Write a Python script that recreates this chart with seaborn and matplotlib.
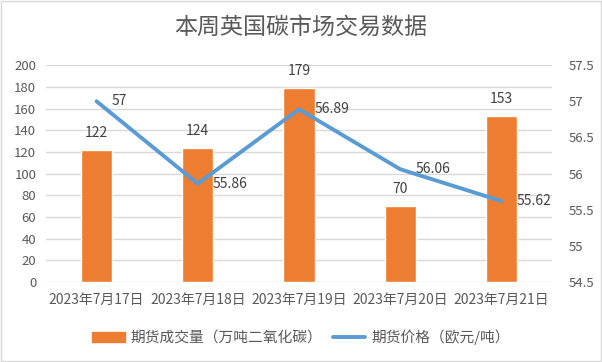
import matplotlib
matplotlib.use('Agg')
import matplotlib.pyplot as plt
import seaborn as sns
import pandas as pd
from matplotlib.patches import Rectangle
from matplotlib.lines import Line2D

dates = ['2023年7月17日', '2023年7月18日', '2023年7月19日', '2023年7月20日', '2023年7月21日']
volume = [122, 124, 179, 70, 153]
price = [57, 55.86, 56.89, 56.06, 55.62]
price_labels = ['57', '55.86', '56.89', '56.06', '55.62']

bar_name = '期货成交量（万吨二氧化碳）'
line_name = '期货价格（欧元/吨）'
title = '本周英国碳市场交易数据'

sns.set_theme(style='white')
plt.rcParams['font.family'] = ['Noto Sans CJK SC', 'DejaVu Sans']

orange = '#ED7D31'
blue = '#5B9BD5'
grey = '#595959'

df = pd.DataFrame({'date': dates, 'volume': volume, 'price': price})

fig = plt.figure(figsize=(6.02, 3.62), dpi=100)
ax = fig.add_axes([0.0764, 0.221, 0.8406, 0.599])
ax2 = ax.twinx()

sns.barplot(data=df, x='date', y='volume', color=orange, width=0.31,
            saturation=1, ax=ax, zorder=2)
ax.set_ylim(0, 200)
ax.set_yticks(range(0, 201, 20))
ax.yaxis.grid(True, color='#D9D9D9', linewidth=1, zorder=0)
ax.set_axisbelow(True)
ax.set_xlim(-0.5, 4.5)
ax.set_xlabel('')
ax.set_ylabel('')
for s in ax.spines.values():
    s.set_visible(False)
ax.tick_params(axis='y', length=0, labelsize=9.5, colors=grey, pad=7)
ax.tick_params(axis='x', length=0, labelsize=10, colors=grey, pad=8)

for i, v in enumerate(volume):
    ax.annotate(str(v), (i, v), xytext=(0, 7), textcoords='offset points',
                ha='center', va='bottom', fontsize=10, color='#404040')

sns.lineplot(x=list(range(5)), y=price, ax=ax2, color=blue, linewidth=2.8,
             zorder=3)
ax2.set_ylim(54.5, 57.5)
ax2.set_yticks([54.5, 55, 55.5, 56, 56.5, 57, 57.5])
ax2.set_yticklabels(['54.5', '55', '55.5', '56', '56.5', '57', '57.5'])
for s in ax2.spines.values():
    s.set_visible(False)
ax2.tick_params(axis='y', length=0, labelsize=9.5, colors=grey, pad=12)
ax2.set_ylabel('')
for i, (v, t) in enumerate(zip(price, price_labels)):
    ax2.annotate(t, (i, v), xytext=(11, 0), textcoords='offset points',
                 ha='left', va='center', fontsize=10, color='#404040')

fig.text(0.5, 0.925, title, ha='center', va='center', fontsize=16.6, color=grey)

handles = [Rectangle((0, 0), 1, 1, color=orange),
           Line2D([0], [0], color=blue, linewidth=2.8)]
fig.legend(handles, [bar_name, line_name], loc='center', bbox_to_anchor=(0.5, 0.068),
           ncol=2, frameon=False, fontsize=10.6, labelcolor=grey,
           handlelength=2.2, handleheight=0.7, columnspacing=0.7, handletextpad=0.4)

fig.patches.append(Rectangle((0.002, 0.003), 0.996, 0.994, transform=fig.transFigure,
                             fill=False, edgecolor='#D9D9D9', linewidth=1))

fig.savefig('out.png', dpi=100)
